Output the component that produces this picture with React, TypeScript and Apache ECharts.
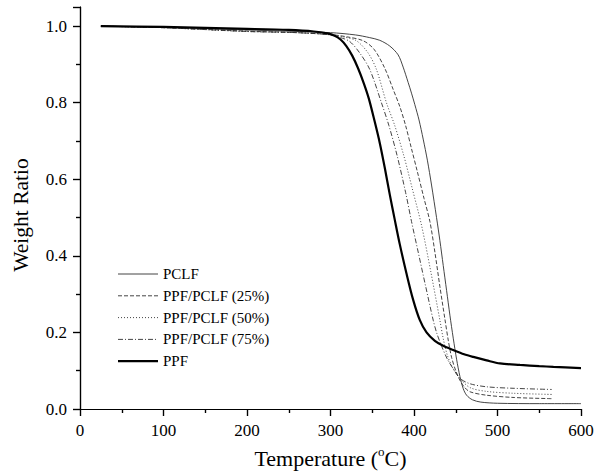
import React, { useEffect, useRef } from "react";
import * as echarts from "echarts";

const seriesNames = ["PCLF", "PPF/PCLF (25%)", "PPF/PCLF (50%)", "PPF/PCLF (75%)", "PPF"];

const pclf: number[][] = [
  [25, 1.0], [100, 0.997], [200, 0.99], [300, 0.983], [330, 0.977], [347, 0.97], [359, 0.963],
  [371, 0.948], [381, 0.925], [387, 0.893], [393, 0.853], [397, 0.825], [401, 0.795], [406, 0.755],
  [411, 0.705], [416, 0.65], [421, 0.585], [427, 0.5], [431, 0.44], [435, 0.375], [439, 0.31],
  [443, 0.245], [447, 0.185], [451, 0.13], [455, 0.085], [459, 0.053], [463, 0.036], [470, 0.024],
  [480, 0.018], [500, 0.015], [550, 0.014], [600, 0.014],
];
const blend25: number[][] = [
  [25, 1.0], [100, 0.996], [200, 0.987], [260, 0.983], [300, 0.978], [320, 0.972], [339, 0.962],
  [352, 0.94], [365, 0.89], [375, 0.835], [383, 0.79], [390, 0.74], [397, 0.68], [404, 0.62],
  [412, 0.55], [419, 0.49], [425, 0.41], [431, 0.32], [437, 0.235], [441, 0.18], [445, 0.135],
  [450, 0.1], [455, 0.075], [460, 0.058], [467, 0.045], [487, 0.036], [520, 0.03], [565, 0.027],
];
const blend50: number[][] = [
  [25, 1.0], [100, 0.996], [200, 0.986], [260, 0.983], [300, 0.978], [315, 0.972], [331, 0.962],
  [345, 0.93], [355, 0.887], [367, 0.8], [377, 0.74], [388, 0.66], [398, 0.575], [409, 0.48],
  [420, 0.36], [431, 0.232], [435, 0.184], [440, 0.14], [447, 0.105], [455, 0.08], [467, 0.056],
  [487, 0.046], [520, 0.041], [565, 0.038],
];
const blend75: number[][] = [
  [25, 1.0], [100, 0.996], [200, 0.986], [260, 0.983], [300, 0.977], [312, 0.97], [323, 0.96],
  [335, 0.93], [347, 0.887], [361, 0.8], [370, 0.74], [380, 0.66], [390, 0.565], [397, 0.49],
  [405, 0.41], [414, 0.32], [423, 0.232], [427, 0.2], [432, 0.17], [440, 0.13], [447, 0.105],
  [455, 0.08], [467, 0.066], [487, 0.058], [520, 0.054], [565, 0.051],
];
const ppf: number[][] = [
  [25, 1.0], [100, 0.998], [200, 0.993], [250, 0.99], [280, 0.986], [296, 0.981], [305, 0.975],
  [312, 0.965], [319, 0.948], [326, 0.923], [333, 0.89], [340, 0.85], [346, 0.81], [353, 0.75],
  [359, 0.695], [365, 0.63], [371, 0.56], [377, 0.494], [383, 0.43], [391, 0.354], [399, 0.285],
  [407, 0.232], [415, 0.2], [425, 0.178], [435, 0.165], [447, 0.154], [460, 0.143], [471, 0.136],
  [487, 0.127], [503, 0.119], [527, 0.115], [550, 0.112], [567, 0.11], [600, 0.107],
];

const FONT = "Liberation Serif";

export default function App() {
  const ref = useRef<HTMLDivElement>(null);
  useEffect(() => {
    if (!ref.current) return;
    const chart = echarts.init(ref.current, undefined, { renderer: "svg" });
    const thin = "#303030";
    const styles: any[] = [
      { color: thin, width: 0.9, type: "solid", dash: null },
      { color: thin, width: 0.9, type: [4, 2], dash: [4, 2] },
      { color: thin, width: 0.9, type: [1, 2], dash: [1, 2] },
      { color: thin, width: 0.9, type: [5, 2, 1, 2], dash: [5, 2, 1, 2] },
      { color: "#000", width: 2.2, type: "solid", dash: null },
    ];
    const datas = [pclf, blend25, blend50, blend75, ppf];
    const axisCommon = {
      min: 0,
      axisLine: { show: true, lineStyle: { color: "#000", width: 1.2 } },
      splitLine: { show: false },
    };
    const tickStyle = { color: "#000", width: 1.2 };
    const legendGraphics: any[] = [];
    seriesNames.forEach((n, i) => {
      const y = 274 + i * 21.8;
      legendGraphics.push({
        type: "line",
        shape: { x1: 118, y1: y, x2: 158, y2: y },
        style: { stroke: styles[i].color, lineWidth: styles[i].width, lineDash: styles[i].dash || undefined },
        silent: true,
      });
      legendGraphics.push({
        type: "text",
        x: 163,
        y,
        style: { text: n, fontFamily: FONT, fontSize: 15, fill: "#000", verticalAlign: "middle", align: "left" },
        silent: true,
      });
    });
    chart.setOption({
      animation: false,
      backgroundColor: "#fff",
      textStyle: { fontFamily: FONT, color: "#000" },
      grid: { left: 80, right: 19, top: 7, bottom: 67, containLabel: false, outerBoundsMode: "none" },
      graphic: legendGraphics,
      xAxis: [
        {
          ...axisCommon,
          type: "value",
          position: "bottom",
          max: 600,
          interval: 100,
          axisTick: { show: true, inside: false, length: 7, lineStyle: tickStyle },
          minorTick: { show: true, splitNumber: 2, length: 4, lineStyle: tickStyle },
          axisLabel: { fontFamily: FONT, fontSize: 17, color: "#000", margin: 13 },
          name: "{a|Temperature (}{s|o}{a|C)}",
          nameLocation: "middle",
          nameGap: 36,
          nameTextStyle: {
            fontFamily: FONT,
            rich: {
              a: { fontFamily: FONT, fontSize: 22, color: "#000", lineHeight: 26 },
              s: { fontFamily: FONT, fontSize: 13, color: "#000", verticalAlign: "top", lineHeight: 13 },
            },
          },
        },
        {
          ...axisCommon,
          type: "value",
          position: "top",
          max: 600,
          interval: 100,
          axisTick: { show: true, inside: true, length: 7, lineStyle: tickStyle },
          minorTick: { show: true, splitNumber: 2, length: 4, lineStyle: tickStyle },
          axisLabel: { show: false },
        },
      ],
      yAxis: [
        {
          ...axisCommon,
          type: "value",
          position: "left",
          max: 1.05,
          interval: 0.2,
          axisTick: { show: true, inside: false, length: 7, lineStyle: tickStyle },
          minorTick: { show: true, splitNumber: 2, length: 4, lineStyle: tickStyle },
          axisLabel: {
            fontFamily: FONT,
            fontSize: 17,
            color: "#000",
            margin: 13,
            showMaxLabel: false,
            formatter: (v: number) => (Math.abs(v * 5 - Math.round(v * 5)) < 1e-6 ? v.toFixed(1) : ""),
          },
          name: "Weight Ratio",
          nameLocation: "middle",
          nameGap: 48,
          nameTextStyle: { fontFamily: FONT, fontSize: 21.5, color: "#000", padding: [0, 14, 0, 0] },
        },
        {
          ...axisCommon,
          type: "value",
          position: "right",
          max: 1.05,
          interval: 0.2,
          axisTick: { show: true, inside: true, length: 7, lineStyle: tickStyle },
          minorTick: { show: true, splitNumber: 2, length: 4, lineStyle: tickStyle },
          axisLabel: { show: false },
        },
      ],
      series: seriesNames.map((name, i) => ({
        name,
        type: "line",
        data: datas[i],
        smooth: 0.3,
        symbol: "none",
        showSymbol: false,
        lineStyle: { color: styles[i].color, width: styles[i].width, type: styles[i].type },
        itemStyle: { color: styles[i].color },
        z: i === 4 ? 3 : 2,
      })),
    });
    return () => chart.dispose();
  }, []);
  return (
    <div
      ref={ref}
      style={{ position: "absolute", left: 0, top: 0, width: 600, height: 476, background: "#fff" }}
    />
  );
}
